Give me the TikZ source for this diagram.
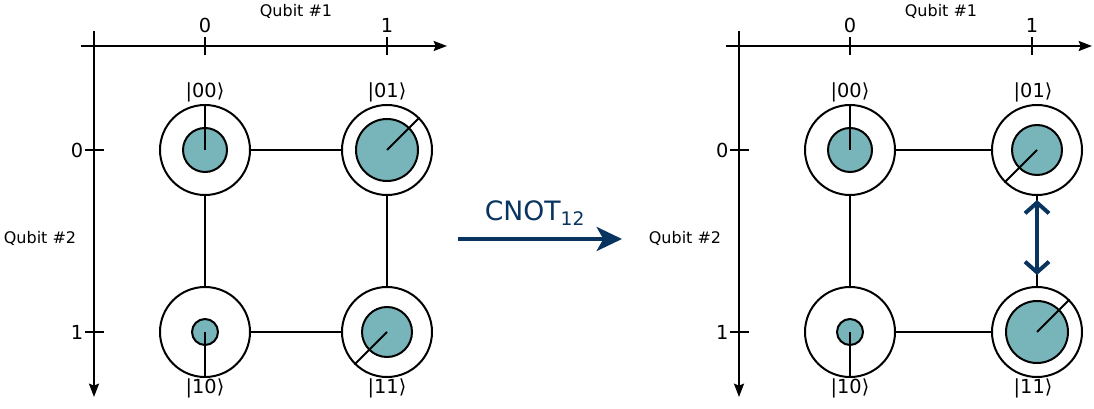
\documentclass[tikz,border=0pt]{standalone}
\usepackage{fontspec}
\setmainfont{DejaVu Sans}
\usetikzlibrary{arrows.meta}
\definecolor{ampfill}{RGB}{120,181,187}
\definecolor{gatenavy}{RGB}{9,52,96}

\begin{document}
\begin{tikzpicture}[x=0.75pt, y=-0.75pt,
  ring/.style={draw, circle, line width=1.5pt, minimum size=67.5pt, inner sep=0pt},
  amp/.style={draw, circle, fill=ampfill, line width=1.5pt, inner sep=0pt, minimum size=#1},
  link/.style={line width=1.5pt},
  axis/.style={line width=1.5pt, -{Stealth[length=10pt,width=7.5pt,inset=1.5pt]}},
  lab/.style={font=\fontsize{12}{14}\selectfont},
  ket/.style={font=\fontsize{14.5}{17}\selectfont},
  gate/.style={gatenavy, line width=3pt, -{Stealth[length=19pt,width=18pt,inset=5pt]}}
]
\useasboundingbox (0,0) rectangle (1094,409);

% axes of both panels
\foreach \ox/\p/\cx in {0/L/387,645/R/387} {
  \coordinate (hs\p) at (81+\ox,46);
  \coordinate (he\p) at (447+\ox,46);
  \coordinate (vs\p) at (94+\ox,31);
  \coordinate (ve\p) at (94+\ox,397);
  \draw[axis] (hs\p) -- (he\p);
  \draw[axis] (vs\p) -- (ve\p);
  \draw[link] (205+\ox,37) -- (205+\ox,55);
  \draw[link] (\cx+\ox,37) -- (\cx+\ox,55);
  \draw[link] (85+\ox,150) -- (104+\ox,150);
  \draw[link] (85+\ox,332) -- (104+\ox,332);
  \node[ket] (tx0\p) at (205+\ox,25) {0};
  \node[ket] (tx1\p) at (\cx+\ox,25) {1};
  \node[ket, anchor=east] (ty0\p) at (88+\ox,150) {0};
  \node[ket, anchor=east] (ty1\p) at (88+\ox,332) {1};
  \node[lab] (qa\p) at (296+\ox,11) {Qubit \#1};
  \node[lab] (qb\p) at (40+\ox,238) {Qubit \#2};
}

% left panel: before the gate
\node[ring] (L00) at (205,150) {};
\node[ring] (L01) at (387,150) {};
\node[ring] (L10) at (205,332) {};
\node[ring] (L11) at (387,332) {};
\draw[link] (L00) -- (L01);
\draw[link] (L10) -- (L11);
\draw[link] (L00) -- (L10);
\draw[link] (L01) -- (L11);
\node[amp=33pt] (aL00) at (L00) {};
\node[amp=46.5pt] (aL01) at (L01) {};
\node[amp=19.5pt] (aL10) at (L10) {};
\node[amp=37.5pt] (aL11) at (L11) {};
\draw[link] (L00.center) -- (L00.north);
\draw[link] (L01.center) -- (L01.45);
\draw[link] (L10.center) -- (L10.south);
\draw[link] (L11.center) -- (L11.225);
\node[ket] (kL00) at (205,92) {|00⟩};
\node[ket] (kL01) at (387,92) {|01⟩};
\node[ket] (kL10) at (205,388) {|10⟩};
\node[ket] (kL11) at (387,388) {|11⟩};

% the gate
\coordinate (gs) at (458,239);
\coordinate (ge) at (622,239);
\draw[gate] (gs) -- (ge);
\node[gatenavy, font=\fontsize{20}{24}\selectfont] (gname) at (535,213) {CNOT\textsubscript{12}};

% right panel: after the gate
\node[ring] (R00) at (850,150) {};
\node[ring] (R01) at (1037,150) {};
\node[ring] (R10) at (850,332) {};
\node[ring] (R11) at (1037,332) {};
\draw[link] (R00) -- (R01);
\draw[link] (R10) -- (R11);
\draw[link] (R00) -- (R10);
\draw[link] (R01) -- (R11);
\node[amp=33pt] (aR00) at (R00) {};
\node[amp=37.5pt] (aR01) at (R01) {};
\node[amp=19.5pt] (aR10) at (R10) {};
\node[amp=46.5pt] (aR11) at (R11) {};
\draw[link] (R00.center) -- (R00.north);
\draw[link] (R01.center) -- (R01.225);
\draw[link] (R10.center) -- (R10.south);
\draw[link] (R11.center) -- (R11.45);
\node[ket] (kR00) at (850,92) {|00⟩};
\node[ket] (kR01) at (1033,92) {|01⟩};
\node[ket] (kR10) at (850,388) {|10⟩};
\node[ket] (kR11) at (1033,388) {|11⟩};

% swap of the amplitudes
\coordinate (sw0) at (1037,200);
\coordinate (sw1) at (1037,275);
\draw[gatenavy, line width=3pt, {Straight Barb[length=8pt,width=18pt]}-{Straight Barb[length=8pt,width=18pt]}] (sw0) -- (sw1);
\end{tikzpicture}
\end{document}
